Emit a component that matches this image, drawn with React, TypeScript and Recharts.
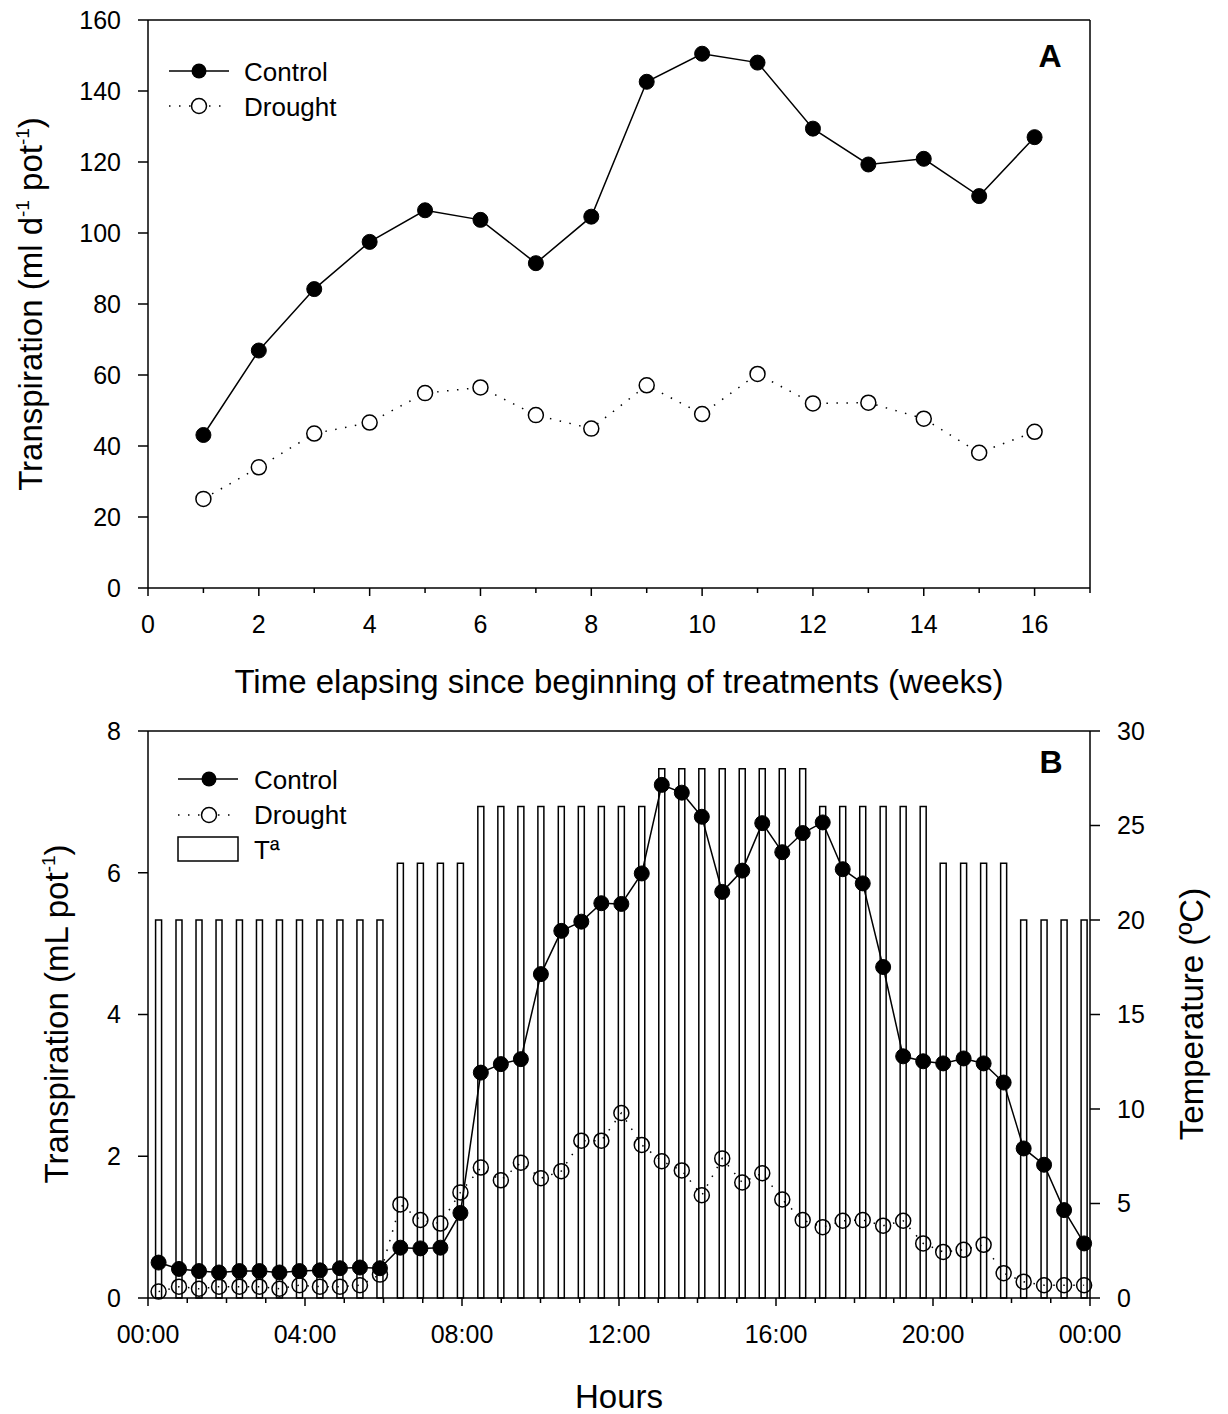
import React from "react";
import {
  LineChart, ComposedChart, Line, Bar, XAxis, YAxis, ReferenceLine,
} from "recharts";

const FONT = "'Liberation Sans', Arial, Helvetica, sans-serif";
const INK = "#000";

// Panel A: weekly transpiration
const weeks = [1, 2, 3, 4, 5, 6, 7, 8, 9, 10, 11, 12, 13, 14, 15, 16];
const controlWeekly = [43.1, 66.9, 84.2, 97.5, 106.4, 103.7, 91.5, 104.6, 142.6, 150.5, 148.0, 129.4, 119.3, 120.9, 110.4, 127.0];
const droughtWeekly = [25.1, 34.0, 43.5, 46.6, 54.9, 56.5, 48.7, 44.9, 57.1, 49.0, 60.3, 52.0, 52.2, 47.7, 38.1, 44.0];
const weekTicks = [0, 1, 2, 3, 4, 5, 6, 7, 8, 9, 10, 11, 12, 13, 14, 15, 16, 17];
const weekLabelTicks = [0, 2, 4, 6, 8, 10, 12, 14, 16];
const transpA_Ticks = [0, 20, 40, 60, 80, 100, 120, 140, 160];

// Panel B: daily course
const hours = [
  0.27, 0.79, 1.30, 1.81, 2.33, 2.84, 3.35, 3.86, 4.38, 4.89, 5.40, 5.91,
  6.43, 6.94, 7.45, 7.96,
  8.48, 8.99, 9.50, 10.01, 10.53, 11.04, 11.55, 12.06, 12.58,
  13.09, 13.60, 14.11, 14.63, 15.14, 15.65, 16.16, 16.68,
  17.19, 17.70, 18.21, 18.73, 19.24, 19.75,
  20.26, 20.78, 21.29, 21.80,
  22.31, 22.83, 23.34, 23.85,
];
const controlHourly = [
  0.50, 0.41, 0.38, 0.36, 0.38, 0.38, 0.36, 0.38, 0.39, 0.42, 0.43, 0.42,
  0.71, 0.70, 0.71, 1.20,
  3.18, 3.30, 3.37, 4.57, 5.18, 5.31, 5.57, 5.56, 5.99,
  7.24, 7.13, 6.79, 5.73, 6.03, 6.70, 6.29, 6.56,
  6.71, 6.05, 5.85, 4.67, 3.41, 3.34,
  3.31, 3.38, 3.31, 3.04,
  2.11, 1.88, 1.24, 0.77,
];
const droughtHourly = [
  0.09, 0.16, 0.13, 0.16, 0.16, 0.16, 0.13, 0.18, 0.16, 0.16, 0.18, 0.33,
  1.32, 1.10, 1.05, 1.49,
  1.84, 1.66, 1.91, 1.69, 1.79, 2.22, 2.22, 2.61, 2.16,
  1.93, 1.80, 1.45, 1.97, 1.63, 1.76, 1.39, 1.10,
  1.00, 1.09, 1.10, 1.02, 1.09, 0.77,
  0.65, 0.68, 0.75, 0.35,
  0.23, 0.18, 0.18, 0.18,
];
const temperature = [
  20, 20, 20, 20, 20, 20, 20, 20, 20, 20, 20, 20,
  23, 23, 23, 23,
  26, 26, 26, 26, 26, 26, 26, 26, 26,
  28, 28, 28, 28, 28, 28, 28, 28,
  26, 26, 26, 26, 26, 26,
  23, 23, 23, 23,
  20, 20, 20, 20,
];
const hourTicks = [0, 1, 2, 3, 4, 5, 6, 7, 8, 9, 10, 11, 12, 13, 14, 15, 16, 17, 18, 19, 20, 21, 22, 23, 24];
const hourLabelTicks = [0, 4, 8, 12, 16, 20, 24];
const hourLabels = ["00:00", "04:00", "08:00", "12:00", "16:00", "20:00", "00:00"];
const transpB_Ticks = [0, 2, 4, 6, 8];
const tempTicks = [0, 5, 10, 15, 20, 25, 30];

const weeklyData = weeks.map((w, i) => ({ week: w, control: controlWeekly[i], drought: droughtWeekly[i] }));
const hourlyData = hours.map((h, i) => ({
  hour: h, control: controlHourly[i], drought: droughtHourly[i], temp: temperature[i],
}));

const tickStyle = { fontSize: 25, fill: INK, fontFamily: FONT };

// x ticks drawn by hand so labelled ticks can be longer than the minor ones
function makeXTick(labelTicks: number[], labels: string[]) {
  return (p: any) => {
    const idx = labelTicks.indexOf(p.payload.value);
    const major = idx >= 0;
    return (
      <g>
        <line x1={p.x} x2={p.x} y1={p.y} y2={p.y + (major ? 8 : 5)} stroke={INK} strokeWidth={1.5} />
        {major && (
          <text x={p.x} y={p.y + 27} dy="0.71em" textAnchor="middle" {...tickStyle}>
            {labels[idx]}
          </text>
        )}
      </g>
    );
  };
}

const dotted = "1.5 8.5";

export default function App() {
  return (
    <div style={{ position: "absolute", left: 0, top: 0, width: 1228, height: 1414, background: "#fff", fontFamily: FONT }}>
      <div style={{ position: "absolute", left: 0, top: 0 }}>
        <LineChart width={1228} height={700} data={weeklyData}
                   margin={{ top: 20, right: 138, bottom: 52, left: 0 }}>
          <XAxis dataKey="week" type="number" domain={[0, 17]} ticks={weekTicks} interval={0}
                 height={60} tickSize={0} tickMargin={0} tickLine={false}
                 axisLine={{ stroke: INK, strokeWidth: 1.5 }}
                 tick={makeXTick(weekLabelTicks, weekLabelTicks.map(String))} />
          <YAxis type="number" domain={[0, 160]} ticks={transpA_Ticks} interval={0} width={148}
                 tickSize={10} tickMargin={17} tick={tickStyle}
                 axisLine={{ stroke: INK, strokeWidth: 1.5 }} tickLine={{ stroke: INK, strokeWidth: 1.5 }} />
          <ReferenceLine y={160} stroke={INK} strokeWidth={1.5} />
          <ReferenceLine x={17} stroke={INK} strokeWidth={1.5} />
          <Line dataKey="drought" stroke={INK} strokeWidth={1.5} strokeDasharray={dotted}
                dot={{ r: 7.5, fill: "#fff", stroke: INK, strokeWidth: 1.5, strokeDasharray: "none" }}
                isAnimationActive={false} />
          <Line dataKey="control" stroke={INK} strokeWidth={1.5}
                dot={{ r: 7.5, fill: INK, stroke: INK, strokeWidth: 1 }}
                isAnimationActive={false} />
        </LineChart>
      </div>

      <div style={{ position: "absolute", left: 0, top: 705 }}>
        <ComposedChart width={1228} height={709} data={hourlyData}
                       margin={{ top: 26, right: 78, bottom: 56, left: 0 }}>
          <XAxis dataKey="hour" type="number" domain={[0, 24]} ticks={hourTicks} interval={0}
                 height={60} tickSize={0} tickMargin={0} tickLine={false}
                 axisLine={{ stroke: INK, strokeWidth: 1.5 }}
                 tick={makeXTick(hourLabelTicks, hourLabels)} />
          <YAxis yAxisId="left" type="number" domain={[0, 8]} ticks={transpB_Ticks} interval={0} width={148}
                 tickSize={10} tickMargin={17} tick={tickStyle}
                 axisLine={{ stroke: INK, strokeWidth: 1.5 }} tickLine={{ stroke: INK, strokeWidth: 1.5 }} />
          <YAxis yAxisId="right" orientation="right" type="number" domain={[0, 30]} ticks={tempTicks}
                 interval={0} width={60} tickSize={10} tickMargin={17} tick={tickStyle}
                 axisLine={{ stroke: INK, strokeWidth: 1.5 }} tickLine={{ stroke: INK, strokeWidth: 1.5 }} />
          <ReferenceLine yAxisId="left" y={8} stroke={INK} strokeWidth={1.5} />
          <Bar yAxisId="right" dataKey="temp" barSize={6} fill="#fff" stroke={INK} strokeWidth={1.5}
               isAnimationActive={false} />
          <Line yAxisId="left" dataKey="drought" stroke={INK} strokeWidth={1.5} strokeDasharray={dotted}
                dot={{ r: 7.5, fill: "none", stroke: INK, strokeWidth: 1.5, strokeDasharray: "none" }}
                isAnimationActive={false} />
          <Line yAxisId="left" dataKey="control" stroke={INK} strokeWidth={1.5}
                dot={{ r: 7.5, fill: INK, stroke: INK, strokeWidth: 1 }}
                isAnimationActive={false} />
        </ComposedChart>
      </div>

      {/* titles, legends and panel letters */}
      <svg width={1228} height={1414} style={{ position: "absolute", left: 0, top: 0, pointerEvents: "none" }}
           fontFamily={FONT} fill={INK}>
        <text x={619} y={693} textAnchor="middle" fontSize={33}>
          Time elapsing since beginning of treatments (weeks)
        </text>
        <text transform="translate(42 304) rotate(-90)" textAnchor="middle" fontSize={33}>
          Transpiration (ml d<tspan dy={-13} fontSize={19}>-1</tspan>
          <tspan dy={13}> pot</tspan><tspan dy={-13} fontSize={19}>-1</tspan><tspan dy={13}>)</tspan>
        </text>
        <text x={1050} y={67} textAnchor="middle" fontSize={32} fontWeight="bold">A</text>

        <line x1={169} x2={229} y1={71} y2={71} stroke={INK} strokeWidth={1.5} />
        <circle cx={199} cy={71} r={7.5} fill={INK} />
        <text x={244} y={81} fontSize={26}>Control</text>
        <line x1={169} x2={229} y1={106} y2={106} stroke={INK} strokeWidth={1.5} strokeDasharray={dotted} />
        <circle cx={199} cy={106} r={7.5} fill="#fff" stroke={INK} strokeWidth={1.5} />
        <text x={244} y={116} fontSize={26}>Drought</text>

        <text x={619} y={1408} textAnchor="middle" fontSize={33}>Hours</text>
        <text transform="translate(68 1014) rotate(-90)" textAnchor="middle" fontSize={33}>
          Transpiration (mL pot<tspan dy={-13} fontSize={19}>-1</tspan><tspan dy={13}>)</tspan>
        </text>
        <text transform="translate(1203 1014) rotate(-90)" textAnchor="middle" fontSize={33}>
          Temperature (ºC)
        </text>
        <text x={1051} y={773} textAnchor="middle" fontSize={32} fontWeight="bold">B</text>

        <line x1={178} x2={238} y1={779} y2={779} stroke={INK} strokeWidth={1.5} />
        <circle cx={209} cy={779} r={7.5} fill={INK} />
        <text x={254} y={789} fontSize={26}>Control</text>
        <line x1={178} x2={238} y1={815} y2={815} stroke={INK} strokeWidth={1.5} strokeDasharray={dotted} />
        <circle cx={209} cy={815} r={7.5} fill="#fff" stroke={INK} strokeWidth={1.5} />
        <text x={254} y={824} fontSize={26}>Drought</text>
        <rect x={178} y={837} width={60} height={24} fill="#fff" stroke={INK} strokeWidth={1.5} />
        <text x={254} y={859} fontSize={26}>Tª</text>
      </svg>
    </div>
  );
}
